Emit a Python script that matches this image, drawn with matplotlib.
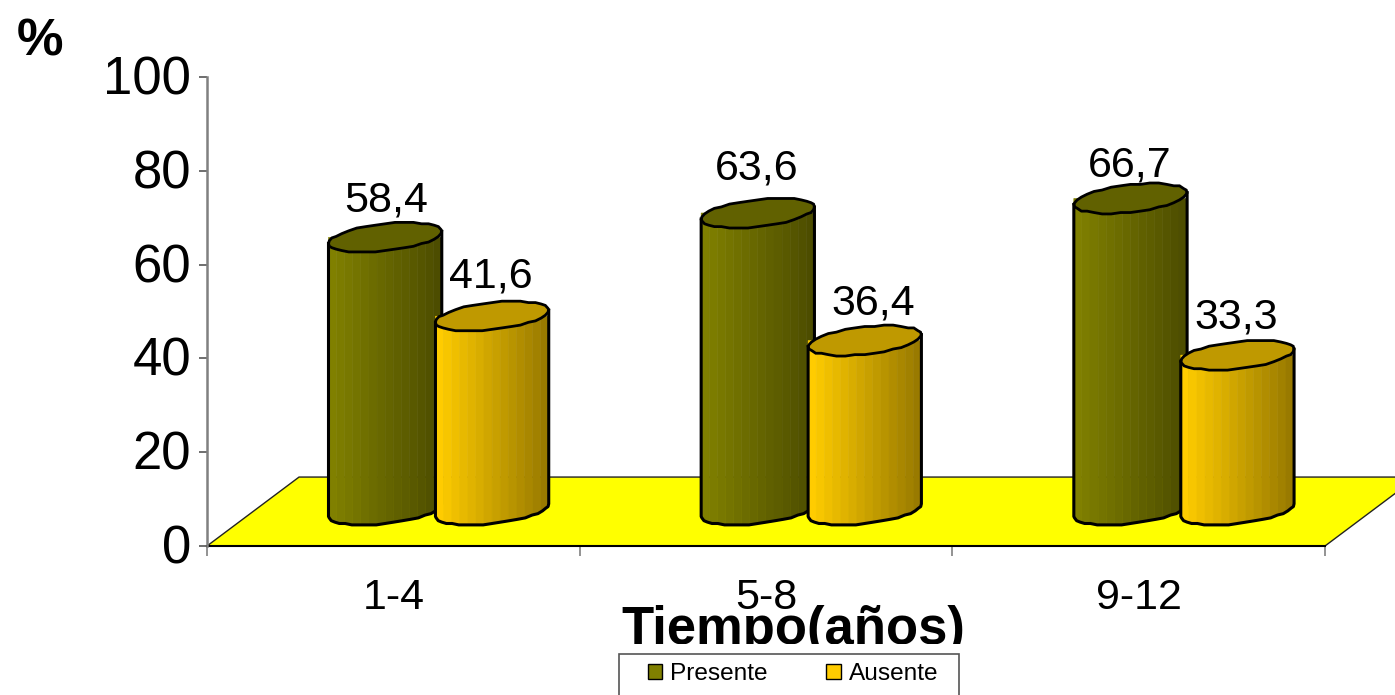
import matplotlib
matplotlib.use("Agg")
import matplotlib.pyplot as plt
import numpy as np
from matplotlib.patches import Patch, Polygon, Rectangle
from matplotlib.transforms import Bbox, ScaledTranslation

categories = ["1-4", "5-8", "9-12"]
presente = [58.4, 63.6, 66.7]
ausente = [41.6, 36.4, 33.3]
y_ticks = [0, 20, 40, 60, 80, 100]

W, H = 1395, 695

# cylinder shape, in axis units
HALF_W = 0.152
ELL_B = 2.9
TILT = 1.28
DEPTH_TOP = 7.4
DEPTH_BOTTOM = 7.65
BANDS = 14
STEP = 0.3
FLOOR_Y = 14.7
FLOOR_SHIFT = 0.247

OLIVE = np.array([0x80, 0x80, 0x00]) / 255
GOLD = np.array([0xFF, 0xCC, 0x00]) / 255

# small pixel nudges for the value labels (dx, dy above the cylinder top)
nudge_presente = [(1, 37), (-1, 45), (-1, 33)]
nudge_ausente = [(-1, 40), (8, 37), (-1, 38)]


def lower_arc(cx, cy, u):
    x = cx + HALF_W * u
    y = cy - ELL_B * np.sqrt(1 - u**2) + TILT * u
    return x, y


def stepped(y):
    # the outlines are drawn with a small vertical step
    return np.round(y / STEP) * STEP


def draw_cylinder(ax, cx, value, color, top_color, z):
    bottom = DEPTH_BOTTOM
    top = value + DEPTH_TOP
    edges = np.linspace(-1, 1, BANDS + 1)

    # banded side, lighter on the left
    for i in range(BANDS):
        u = np.linspace(edges[i], edges[i + 1], 4)
        x, y = lower_arc(cx, bottom, u)
        xs = np.r_[x, x[::-1]]
        ys = np.r_[y, np.full(4, top)]
        shade = color * (1 - 0.40 * i / (BANDS - 1))
        ax.fill(xs, ys, color=shade, lw=0.4, zorder=z, clip_on=False)

    # top cap
    t = np.linspace(0, 2 * np.pi, 37)
    cap_x = cx + HALF_W * np.cos(t)
    cap_y = stepped(top + ELL_B * np.sin(t) + TILT * np.cos(t))
    ax.fill(cap_x, cap_y, facecolor=top_color, edgecolor="black", lw=2,
            zorder=z + 1, clip_on=False)

    # outline of the side
    u = np.cos(np.linspace(np.pi, 0, 21))
    x, y = lower_arc(cx, bottom, u)
    xs = np.r_[cx - HALF_W, x, cx + HALF_W]
    ys = np.r_[top - TILT, stepped(y), top + TILT]
    ax.plot(xs, ys, color="black", lw=2.2, zorder=z + 1, clip_on=False,
            solid_joinstyle="round")


fig = plt.figure(figsize=(W / 100, H / 100), dpi=100)
plt.rcParams["font.family"] = ["Liberation Sans", "DejaVu Sans"]

ax = fig.add_axes([207 / W, 1 - 546 / H, (1325 - 207) / W, (546 - 77) / H])
ax.set_xlim(0, 3)
ax.set_ylim(0, 100)
ax.patch.set_visible(False)

# yellow floor
ax.add_patch(Polygon(
    [(0, 0), (3, 0), (3 + FLOOR_SHIFT, FLOOR_Y), (FLOOR_SHIFT, FLOOR_Y)],
    closed=True, facecolor="#FFFF00", edgecolor="#222222", lw=1,
    clip_on=False, zorder=1))

z = 3
for i in range(len(categories)):
    cx_p = i + 0.478
    cx_a = i + 0.765
    draw_cylinder(ax, cx_p, presente[i], OLIVE, OLIVE * 0.76, z)
    draw_cylinder(ax, cx_a, ausente[i], GOLD, GOLD * 0.75, z + 2)
    z += 4

    for cx, val, (dx, dy) in [(cx_p, presente[i], nudge_presente[i]),
                              (cx_a, ausente[i], nudge_ausente[i])]:
        ax.annotate(f"{val:.1f}".replace(".", ","), (cx, val + DEPTH_TOP),
                    xytext=(dx, dy), textcoords="offset pixels",
                    ha="center", va="center", fontsize=31, zorder=30)

# axis lines and ticks
for side in ["top", "right"]:
    ax.spines[side].set_visible(False)
ax.spines["left"].set_color("#808080")
ax.spines["left"].set_linewidth(1.8)
ax.spines["bottom"].set_color("black")
ax.spines["bottom"].set_linewidth(1.5)
ax.spines["bottom"].set_zorder(2)

ax.set_yticks(y_ticks)
ax.tick_params(axis="y", length=6, width=1.2, color="#555555", labelsize=38,
               pad=5.5)
lift = ScaledTranslation(0, 2 / 100, fig.dpi_scale_trans)
for label in ax.get_yticklabels():
    label.set_transform(label.get_transform() + lift)

ax.set_xticks(range(len(categories) + 1))
ax.set_xticklabels([])
ax.set_xticks(np.arange(len(categories)) + 0.5, labels=categories, minor=True)
ax.tick_params(axis="x", which="major", length=7, width=1.2, color="#808080")
ax.tick_params(axis="x", which="minor", length=0, labelsize=31, pad=23)

fig.text(793.5 / W, 1 - 644 / H, "Tiempo(años)", ha="center", va="baseline",
         fontsize=37.9, fontweight="bold", zorder=20, clip_on=True,
         clip_box=Bbox.from_extents(0, H - 644, W, H))
fig.text(17 / W, 1 - 55 / H, "%", ha="left", va="baseline", fontsize=37.7,
         fontweight="bold")

# legend box runs off the bottom edge
fig.add_artist(Rectangle((619 / W, -0.02), 340 / W, 0.02 + 41 / H,
                         transform=fig.transFigure, facecolor="white",
                         edgecolor="#555555", lw=1.2))
handles = [Patch(facecolor=OLIVE, edgecolor="black", label="Presente"),
           Patch(facecolor=GOLD, edgecolor="black", label="Ausente")]
leg = fig.legend(handles=handles, loc="center", ncol=2, frameon=False,
                 bbox_to_anchor=(793 / W, 21 / H), fontsize=17.6,
                 handlelength=0.58, handleheight=0.58, handletextpad=0.34,
                 columnspacing=2.4)
leg.set_zorder(25)

fig.savefig("out.png", dpi=100)
